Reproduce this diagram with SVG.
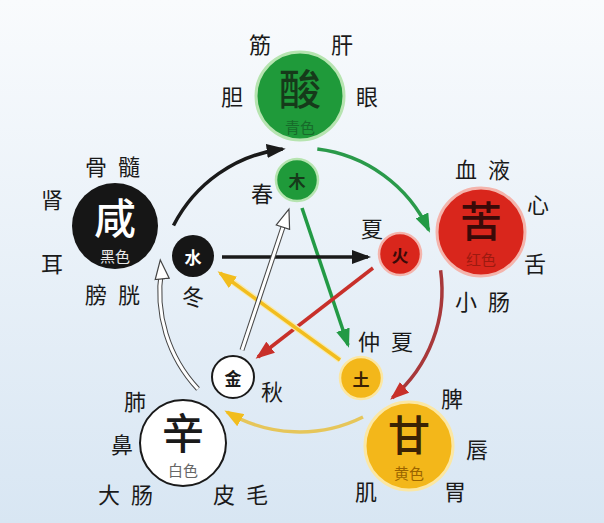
<svg xmlns="http://www.w3.org/2000/svg" width="604" height="523" viewBox="0 0 604 523">
<defs>
<linearGradient id="bg" x1="0" y1="0" x2="0" y2="1">
<stop offset="0" stop-color="#f9fbfd"/>
<stop offset="1" stop-color="#d8e6f3"/>
</linearGradient>
<marker id="aK" markerUnits="userSpaceOnUse" markerWidth="20" markerHeight="14" refX="16" refY="7" orient="auto"><path d="M0,0 L19,7 L0,14 z" fill="#1a1a1a"/></marker>
<marker id="aG" markerUnits="userSpaceOnUse" markerWidth="20" markerHeight="14" refX="16" refY="7" orient="auto"><path d="M0,0 L19,7 L0,14 z" fill="#239a45"/></marker>
<marker id="aR" markerUnits="userSpaceOnUse" markerWidth="20" markerHeight="14" refX="16" refY="7" orient="auto"><path d="M0,0 L19,7 L0,14 z" fill="#c8302a"/></marker>
<marker id="aY" markerUnits="userSpaceOnUse" markerWidth="20" markerHeight="14" refX="16" refY="7" orient="auto"><path d="M0,0 L19,7 L0,14 z" fill="#f2bd1e"/></marker>
<marker id="aW" markerUnits="userSpaceOnUse" markerWidth="22" markerHeight="16" refX="17" refY="8" orient="auto"><path d="M1,1 L20,8 L1,15 z" fill="#ffffff" stroke="#444" stroke-width="1.2"/></marker>
</defs>
<style>
text{font-family:"Noto Sans CJK SC","Noto Sans CJK TC",sans-serif;text-anchor:middle;dominant-baseline:central;}
.lbl{font-size:22px;fill:#1a1a1a;}
.big{font-size:42px;font-weight:500;}
.sub{font-size:15px;}
.sm{font-size:17px;font-weight:bold;}
.arc{fill:none;stroke-width:3.5;}
.ln{fill:none;stroke-width:3.5;}
</style>
<rect width="604" height="523" fill="url(#bg)"/>

<g id="connectors">
<path class="arc" d="M173.5,225.5 A142,142 0 0 1 282.7,149" stroke="#1a1a1a" marker-end="url(#aK)"/>
<path class="arc" d="M317.3,149.1 A142,142 0 0 1 428.7,230" stroke="#2a9a4a" marker-end="url(#aG)"/>
<path class="arc" d="M440.6,270.2 A142,142 0 0 1 392.4,397.8" stroke="#a8383a" marker-end="url(#aR)"/>
<path class="arc" d="M363,417 A142,142 0 0 1 227,412" stroke="#e6c65a" stroke-width="4.5" marker-end="url(#aY)"/>
<path d="M198,389 A142,142 0 0 1 161.5,270" fill="none" stroke="#444" stroke-width="5"/>
<path d="M198,389 A142,142 0 0 1 161.5,270" fill="none" stroke="#ffffff" stroke-width="3"/>
<path d="M161.5,270 A142,142 0 0 1 160.6,262.9" fill="none" stroke="none" marker-end="url(#aW)"/>
<path class="ln" d="M302,208 L348,345" stroke="#239a45" marker-end="url(#aG)"/>
<path class="ln" d="M222,257 L368,257" stroke="#1a1a1a" marker-end="url(#aK)"/>
<path class="ln" d="M373,268 L258,357" stroke="#c8302a" marker-end="url(#aR)"/>
<path d="M340,360 L226,277" fill="none" stroke="#f7eab0" stroke-width="6"/>
<path class="ln" d="M340,360 L220,273" stroke="#f2bd1e" marker-end="url(#aY)"/>
<path d="M242,350 L286,218" fill="none" stroke="#444" stroke-width="5"/>
<path d="M242,350 L286,218" fill="none" stroke="#ffffff" stroke-width="3"/>
<path d="M286,218 L288,212" fill="none" stroke="none" marker-end="url(#aW)"/>
</g>

<g id="wood-big">
<circle cx="300" cy="96" r="44" fill="#1f9a3a" stroke="#b6e4b0" stroke-width="3"/>
<text x="300" y="86" class="big" fill="#163a1a">酸</text>
<text x="300" y="126" class="sub" fill="#176a2a">青色</text>
<text x="260" y="43" class="lbl">筋</text>
<text x="342" y="43" class="lbl">肝</text>
<text x="232" y="95" class="lbl">胆</text>
<text x="367" y="95" class="lbl">眼</text>
</g>
<g id="wood-small">
<circle cx="297" cy="180" r="21" fill="#1f9a3a" stroke="#b6e4b0" stroke-width="2.5"/>
<text x="297" y="180" class="sm" fill="#163a1a">木</text>
<text x="262" y="192" class="lbl">春</text>
</g>

<g id="water-big">
<circle cx="115" cy="226" r="43" fill="#161616"/>
<text x="115" y="215" class="big" fill="#ffffff">咸</text>
<text x="115" y="255" class="sub" fill="#e8e8e8">黑色</text>
<text x="96" y="165" class="lbl">骨</text>
<text x="129" y="165" class="lbl">髓</text>
<text x="52" y="198" class="lbl">肾</text>
<text x="52" y="262" class="lbl">耳</text>
<text x="96" y="293" class="lbl">膀</text>
<text x="129" y="293" class="lbl">胱</text>
</g>
<g id="water-small">
<circle cx="193" cy="256" r="21" fill="#161616"/>
<text x="193" y="256" class="sm" fill="#ffffff">水</text>
<text x="193" y="295" class="lbl">冬</text>
</g>

<g id="fire-big">
<circle cx="481" cy="232" r="44" fill="#d9261c" stroke="#f4b4ac" stroke-width="3"/>
<text x="481" y="218" class="big" fill="#3a0a08">苦</text>
<text x="481" y="258" class="sub" fill="#9c1a10">红色</text>
<text x="466" y="168" class="lbl">血</text>
<text x="499" y="168" class="lbl">液</text>
<text x="538" y="203" class="lbl">心</text>
<text x="535" y="262" class="lbl">舌</text>
<text x="466" y="300" class="lbl">小</text>
<text x="499" y="300" class="lbl">肠</text>
</g>
<g id="fire-small">
<circle cx="400" cy="254" r="21" fill="#d9261c" stroke="#f4b4ac" stroke-width="2.5"/>
<text x="400" y="254" class="sm" fill="#3a0a08">火</text>
<text x="372" y="227" class="lbl">夏</text>
</g>

<g id="earth-big">
<circle cx="409" cy="446" r="44" fill="#f3b71a" stroke="#fbe7a4" stroke-width="3"/>
<text x="409" y="432" class="big" fill="#3a2204">甘</text>
<text x="409" y="472" class="sub" fill="#9a6400">黄色</text>
<text x="452" y="397" class="lbl">脾</text>
<text x="477" y="448" class="lbl">唇</text>
<text x="455" y="490" class="lbl">胃</text>
<text x="366" y="490" class="lbl">肌</text>
</g>
<g id="earth-small">
<circle cx="361" cy="378" r="21" fill="#f3b71a" stroke="#fbe7a4" stroke-width="2.5"/>
<text x="361" y="378" class="sm" fill="#3a2204">土</text>
<text x="369" y="340" class="lbl">仲</text>
<text x="402" y="340" class="lbl">夏</text>
</g>

<g id="metal-big">
<circle cx="183" cy="443" r="43" fill="#ffffff" stroke="#1a1a1a" stroke-width="2"/>
<text x="183" y="430" class="big" fill="#1a1a1a">辛</text>
<text x="183" y="469" class="sub" fill="#666">白色</text>
<text x="135" y="400" class="lbl">肺</text>
<text x="122" y="443" class="lbl">鼻</text>
<text x="109" y="493" class="lbl">大</text>
<text x="142" y="493" class="lbl">肠</text>
<text x="224" y="493" class="lbl">皮</text>
<text x="257" y="493" class="lbl">毛</text>
</g>
<g id="metal-small">
<circle cx="233" cy="377" r="21" fill="#ffffff" stroke="#1a1a1a" stroke-width="2"/>
<text x="233" y="377" class="sm" fill="#1a1a1a">金</text>
<text x="272" y="390" class="lbl">秋</text>
</g>
</svg>
